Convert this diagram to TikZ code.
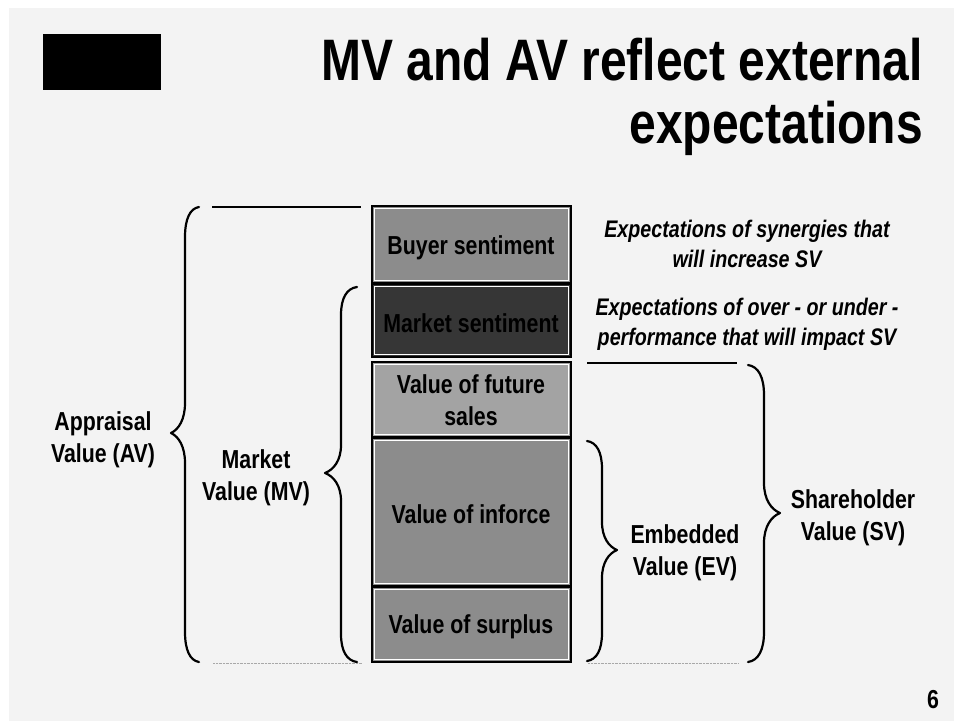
\documentclass[tikz,border=0pt]{standalone}
\usepackage{fontspec}
\setmainfont{Liberation Sans}[FakeStretch=0.82]

\definecolor{slidebg}{HTML}{F3F3F3}
\definecolor{midgray}{HTML}{8C8C8C}
\definecolor{darkgray}{HTML}{363636}
\definecolor{lightgray}{HTML}{A3A3A3}
\definecolor{dotgray}{HTML}{A8A8A8}

% curly brace opening to the right: vertical x, top y, tip y, bottom y, half width, curve length
\newcommand\braceOpenRight[6]{%
  \draw[brace] ({#1+#5},#2) .. controls ({#1+0.35*#5},{#2+0.05*#6}) and (#1,{#2+0.4*#6}) .. (#1,{#2+#6})
    -- (#1,{#3-#6}) .. controls (#1,{#3-0.45*#6}) and ({#1-0.45*#5},{#3-0.12*#6}) .. ({#1-#5},#3)
    .. controls ({#1-0.45*#5},{#3+0.12*#6}) and (#1,{#3+0.45*#6}) .. (#1,{#3+#6})
    -- (#1,{#4-#6}) .. controls (#1,{#4-0.4*#6}) and ({#1+0.35*#5},{#4-0.05*#6}) .. ({#1+#5},#4);}
% curly brace opening to the left
\newcommand\braceOpenLeft[6]{%
  \draw[brace] ({#1-#5},#2) .. controls ({#1-0.35*#5},{#2+0.05*#6}) and (#1,{#2+0.4*#6}) .. (#1,{#2+#6})
    -- (#1,{#3-#6}) .. controls (#1,{#3-0.45*#6}) and ({#1+0.45*#5},{#3-0.12*#6}) .. ({#1+#5},#3)
    .. controls ({#1+0.45*#5},{#3+0.12*#6}) and (#1,{#3+0.45*#6}) .. (#1,{#3+#6})
    -- (#1,{#4-#6}) .. controls (#1,{#4-0.4*#6}) and ({#1-0.35*#5},{#4-0.05*#6}) .. ({#1-#5},#4);}

\begin{document}
\begin{tikzpicture}[x=1pt,y=-1pt,
  vbox/.style={draw=black, line width=2pt, inner sep=0pt,
    path picture={\draw[white, line width=1pt]
      ([shift={(2.5pt,-2.5pt)}]path picture bounding box.north west) rectangle
      ([shift={(-2.5pt,2.5pt)}]path picture bounding box.south east);}},
  lbl/.style={font={\bfseries\fontsize{26}{31}\selectfont}, anchor=base, inner sep=0pt},
  note/.style={font={\bfseries\itshape\fontsize{24}{30}\selectfont}, anchor=base, inner sep=0pt},
  ttl/.style={font={\bfseries\fontsize{58.5}{62}\selectfont}, anchor=base east, inner sep=0pt},
  brace/.style={line width=2.2pt, line cap=round, line join=round},
  rule/.style={line width=1.6pt},
  dotrule/.style={draw=dotgray, line width=1pt, dash pattern=on 0.7pt off 0.7pt}]

\useasboundingbox (0,0) rectangle (954,721);
\fill[white] (0,0) rectangle (954,721);
\fill[slidebg] (9,8) rectangle (954,721);

% logo block and title
\fill[black] (43,34) rectangle (161,90);
\node[ttl] (title1) at (923,80) {MV and AV reflect external};
\node[ttl] (title2) at (923,143) {expectations};

% stacked value blocks
\node[vbox, fill=midgray,   minimum width=199.5pt, minimum height=77pt]   (buyer)   at (471.25,244) {};
\node[vbox, fill=darkgray,  minimum width=199.5pt, minimum height=73pt]   (market)  at (471.25,320) {};
\node[vbox, fill=lightgray, minimum width=199.5pt, minimum height=75.5pt] (future)  at (471.25,399.25) {};
\node[vbox, fill=midgray,   minimum width=199.5pt, minimum height=148pt]  (inforce) at (471.25,512) {};
\node[vbox, fill=midgray,   minimum width=199.5pt, minimum height=75.5pt] (surplus) at (471.25,624.25) {};

\node[lbl] (tbuyer)  at (471,254) {Buyer sentiment};
\node[lbl] (tmarket) at (471,332) {Market sentiment};
\node[lbl] (tfut1)   at (471,393) {Value of future};
\node[lbl] (tfut2)   at (471,425) {sales};
\node[lbl] (tinf)    at (471,523) {Value of inforce};
\node[lbl] (tsur)    at (471,633) {Value of surplus};

% brace labels
\node[lbl] (av1) at (103,430) {Appraisal};
\node[lbl] (av2) at (103,462) {Value (AV)};
\node[lbl] (mv1) at (256,468) {Market};
\node[lbl] (mv2) at (256,500) {Value (MV)};
\node[lbl] (ev1) at (685,543) {Embedded};
\node[lbl] (ev2) at (685,575) {Value (EV)};
\node[lbl] (sv1) at (853,508) {Shareholder};
\node[lbl] (sv2) at (853,540) {Value (SV)};

% notes beside the sentiment blocks
\node[note] (n1) at (747,237) {Expectations of synergies that};
\node[note] (n2) at (747,267) {will increase SV};
\node[note] (n3) at (747,315) {Expectations of over - or under -};
\node[note] (n4) at (747,345) {performance that will impact SV};

% braces
\braceOpenRight{185}{207}{433}{662}{14}{30}
\braceOpenRight{341}{287}{473}{662}{16}{28}
\braceOpenLeft{602}{441}{550}{661}{15}{28}
\braceOpenLeft{764}{365}{513}{662}{16}{30}

% guide rules
\coordinate (avtopA) at (212,207);
\coordinate (avtopB) at (361,207);
\coordinate (svtopA) at (587,363);
\coordinate (svtopB) at (737,363);
\draw[rule] (avtopA) -- (avtopB);
\draw[rule] (svtopA) -- (svtopB);
\coordinate (baseLA) at (213,663);
\coordinate (baseLB) at (362,663);
\coordinate (baseRA) at (588,663);
\coordinate (baseRB) at (738,663);
\draw[dotrule] (baseLA) -- (baseLB);
\draw[dotrule] (baseRA) -- (baseRB);

% page number
\node[lbl] (pagenum) at (933,708) {6};
\end{tikzpicture}
\end{document}
